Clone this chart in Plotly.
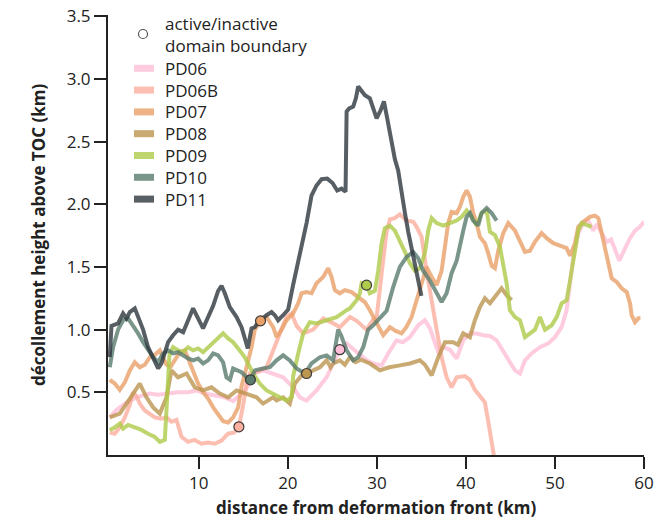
import plotly.graph_objects as go

# ---------------- data (km) ----------------
pd06_x = [0, 0.75, 1.88, 3.0, 4.49, 5.43, 6.55, 7.67, 8.8, 9.74, 10.67, 11.8, 12.92, 13.85, 14.98,
          15.54, 16.1, 17.22, 18.35, 19.47, 20.6, 21.35, 22.1, 23.22, 24.35, 25.09, 25.84, 26.6, 28.09, 28.84,
          29.58, 30.53, 31.27, 32.21, 32.9, 33.71, 34.64, 35.39, 35.96, 36.4, 36.89, 37.45, 38.2, 38.96, 39.7,
          40.45, 41.2, 41.95, 42.7, 43.45, 44.19, 44.94, 45.51, 46.07, 46.63, 47.38, 48.31, 49.25, 50.0, 50.75,
          51.31, 51.69, 52.06, 52.62, 53.18, 53.74, 54.31, 54.7, 55.25, 55.81, 56.3, 56.74, 57.23, 57.68, 58.43,
          58.99, 59.55, 60.0]
pd06_y = [0.30, 0.36, 0.42, 0.46, 0.49, 0.48, 0.49, 0.50, 0.50, 0.515, 0.49, 0.475, 0.46, 0.43, 0.50,
          0.55, 0.65, 0.675, 0.65, 0.62, 0.54, 0.46, 0.435, 0.515, 0.62, 0.73, 0.84, 0.89, 0.80, 0.755,
          0.73, 0.715, 0.81, 0.915, 0.90, 0.94, 1.035, 1.075, 1.01, 0.92, 0.82, 0.86, 0.84, 0.77, 0.915,
          0.97, 0.97, 0.955, 0.95, 0.915, 0.835, 0.74, 0.675, 0.65, 0.755, 0.81, 0.86, 0.89, 0.94, 1.02,
          1.155, 1.37, 1.58, 1.77, 1.85, 1.87, 1.79, 1.84, 1.77, 1.70, 1.72, 1.63, 1.55, 1.62, 1.73,
          1.79, 1.82, 1.86]

pd06b_x = [0, 0.56, 1.12, 1.69, 2.25, 2.62, 3.0, 3.37, 3.93, 4.49, 5.06, 5.8, 6.37, 6.93, 7.49,
           8.06, 8.8, 9.5, 10.3, 11.0, 11.8, 12.55, 13.29, 14.0, 14.5, 14.98, 15.36, 15.73, 16.48, 17.61,
           18.35, 19.1, 19.85, 20.42, 20.98, 21.72, 22.84, 23.97, 25.09, 25.84, 26.97, 27.72, 28.84, 29.58, 29.97,
           30.34, 30.7, 31.09, 31.46, 32.0, 32.58, 33.34, 34.08, 34.46, 35.02, 35.58, 36.15, 36.71, 37.27, 37.83,
           38.39, 38.96, 39.89, 40.45, 41.01, 41.57, 42.13, 42.5, 42.89, 43.2]
pd06b_y = [0.18, 0.17, 0.22, 0.30, 0.40, 0.50, 0.47, 0.41, 0.355, 0.33, 0.30, 0.29, 0.30, 0.265, 0.28,
           0.145, 0.105, 0.12, 0.09, 0.10, 0.09, 0.115, 0.17, 0.18, 0.225, 0.40, 0.57, 0.65, 0.66, 0.70,
           0.84, 0.97, 1.10, 1.13, 1.03, 0.97, 1.00, 1.09, 1.05, 1.02, 1.10, 1.07, 1.00, 1.08, 1.10,
           1.30, 1.55, 1.78, 1.88, 1.89, 1.92, 1.87, 1.86, 1.82, 1.74, 1.47, 1.21, 1.0, 0.78, 0.62,
           0.54, 0.62, 0.63, 0.60, 0.52, 0.47, 0.42, 0.27, 0.10, -0.03]

pd07_x = [0, 0.56, 1.12, 1.69, 2.25, 2.81, 3.37, 3.93, 4.49, 5.06, 5.62, 5.99, 6.37, 6.8, 7.3,
          7.87, 8.43, 8.99, 9.36, 9.92, 10.5, 11.04, 11.61, 12.17, 12.73, 13.3, 13.85, 14.42, 14.8, 15.36,
          15.92, 16.29, 16.93, 17.61, 18.35, 18.73, 19.29, 19.85, 20.6, 21.16, 21.54, 22.1, 22.66, 23.22, 23.97,
          24.53, 24.91, 25.28, 25.84, 26.4, 27.16, 27.9, 28.65, 29.21, 29.78, 30.34, 30.71, 31.46, 32.1, 32.77,
          33.3, 33.9, 34.46, 35.02, 35.58, 36.15, 36.71, 37.27, 37.64, 38.01, 38.39, 38.96, 39.33, 39.7, 40.08,
          40.45, 40.82, 41.2, 41.57, 42.13, 42.5, 42.89, 43.26, 43.63, 44.19, 44.75, 45.51, 46.07, 46.63, 47.19,
          47.75, 48.5, 49.07, 49.81, 50.56, 51.31, 51.69, 52.25, 52.62, 53.18, 53.93, 54.49, 54.87, 55.25, 55.62,
          56.0, 56.37, 56.93, 57.49, 58.06, 58.43, 58.61, 58.99, 59.36, 59.6]
pd07_y = [0.60, 0.57, 0.52, 0.58, 0.675, 0.74, 0.70, 0.72, 0.78, 0.80, 0.835, 0.78, 0.72, 0.70, 0.755,
          0.82, 0.835, 0.74, 0.675, 0.57, 0.50, 0.45, 0.38, 0.32, 0.27, 0.26, 0.30, 0.38, 0.55, 0.70,
          0.86, 1.0, 1.07, 1.10, 1.02, 0.94, 1.0, 1.075, 1.13, 1.21, 1.29, 1.30, 1.29, 1.37, 1.42,
          1.49, 1.42, 1.315, 1.29, 1.315, 1.30, 1.26, 1.22, 1.155, 1.075, 1.0, 0.955, 1.02, 0.99, 0.97,
          1.02, 1.10, 1.235, 1.37, 1.50, 1.42, 1.355, 1.47, 1.66, 1.85, 1.94, 1.93, 1.98, 2.06, 2.11,
          2.06, 1.93, 1.85, 1.74, 1.69, 1.61, 1.51, 1.49, 1.63, 1.77, 1.85, 1.79, 1.71, 1.62, 1.63,
          1.70, 1.77, 1.73, 1.69, 1.67, 1.65, 1.59, 1.69, 1.82, 1.86, 1.90, 1.91, 1.89, 1.77, 1.63,
          1.50, 1.41, 1.38, 1.33, 1.30, 1.21, 1.115, 1.06, 1.09, 1.09]

pd08_x = [0, 1.12, 1.88, 2.62, 3.37, 4.12, 4.87, 5.62, 6.37, 6.93, 7.67, 8.62, 9.55, 10.48, 11.42,
          12.36, 13.29, 14.24, 15.36, 16.48, 17.22, 18.35, 18.73, 19.47, 20.22, 20.79, 21.54, 22.1, 22.84, 23.6,
          24.35, 24.8, 25.09, 25.84, 26.4, 26.97, 27.6, 28.2, 29.21, 30.34, 31.4, 32.58, 33.71, 34.83, 35.4,
          36.15, 36.89, 37.64, 38.57, 39.1, 39.7, 40.45, 41.01, 41.57, 42.13, 42.7, 43.26, 44.0, 44.57, 45.13]
pd08_y = [0.30, 0.33, 0.41, 0.49, 0.57, 0.46, 0.38, 0.33, 0.46, 0.675, 0.62, 0.65, 0.54, 0.515, 0.54,
          0.49, 0.46, 0.515, 0.49, 0.46, 0.41, 0.46, 0.435, 0.46, 0.41, 0.57, 0.635, 0.65, 0.675, 0.70,
          0.755, 0.70, 0.73, 0.755, 0.72, 0.78, 0.74, 0.76, 0.73, 0.675, 0.70, 0.715, 0.73, 0.755, 0.72,
          0.635, 0.78, 0.90, 0.90, 0.88, 0.97, 0.94, 1.075, 1.18, 1.25, 1.21, 1.26, 1.33, 1.275, 1.235]

pd09_x = [0, 0.56, 1.12, 1.5, 2.06, 2.81, 3.56, 4.30, 5.06, 5.62, 6.18, 6.4, 6.7, 7.11, 7.67,
          8.24, 8.80, 9.36, 9.92, 10.48, 11.04, 11.61, 12.17, 12.73, 13.29, 13.85, 14.42, 15.17, 16.1, 16.85,
          17.61, 18.35, 19.1, 19.85, 20.42, 20.6, 21.16, 21.72, 22.47, 23.22, 24.35, 25.47, 26.6, 26.97, 27.72,
          28.09, 28.28, 28.84, 29.21, 29.78, 30.15, 30.53, 30.9, 31.46, 32.02, 32.58, 33.15, 33.71, 34.27, 34.83,
          35.39, 35.76, 36.15, 36.71, 37.45, 38.2, 38.96, 39.52, 40.08, 40.64, 41.2, 41.76, 42.33, 42.7, 43.26,
          43.82, 44.19, 44.57, 44.94, 45.51, 46.07, 46.63, 47.2, 47.75, 48.31, 48.88, 49.63, 50.19, 50.75, 51.31,
          51.69, 52.25, 52.62, 53.0, 53.6, 54.12]
pd09_y = [0.20, 0.22, 0.25, 0.21, 0.24, 0.22, 0.20, 0.17, 0.145, 0.105, 0.12, 0.40, 0.80, 0.86, 0.835,
          0.82, 0.86, 0.835, 0.85, 0.82, 0.86, 0.89, 0.94, 0.97, 0.93, 0.90, 0.85, 0.78, 0.65, 0.57,
          0.515, 0.49, 0.46, 0.435, 0.46, 0.63, 0.81, 0.97, 1.06, 1.05, 1.075, 1.10, 1.155, 1.17, 1.235,
          1.29, 1.37, 1.355, 1.29, 1.31, 1.47, 1.69, 1.81, 1.83, 1.79, 1.71, 1.62, 1.53, 1.47, 1.49,
          1.61, 1.79, 1.89, 1.85, 1.83, 1.85, 1.87, 1.90, 1.95, 1.90, 1.83, 1.93, 1.95, 1.78, 1.755,
          1.66, 1.53, 1.37, 1.155, 1.10, 1.075, 0.94, 0.97, 1.0, 1.10, 1.0, 1.035, 1.10, 1.21, 1.235,
          1.39, 1.66, 1.79, 1.85, 1.83, 1.82]

pd10_x = [0, 0.37, 0.93, 1.49, 2.06, 2.62, 3.18, 3.74, 4.30, 4.87, 5.43, 5.99, 6.55, 7.11, 7.67,
          8.24, 8.80, 9.36, 9.92, 10.48, 11.04, 11.61, 12.17, 12.73, 13.1, 13.5, 13.85, 14.8, 15.36, 15.8,
          16.3, 17.2, 17.98, 18.73, 19.47, 20.22, 20.98, 21.91, 22.66, 23.6, 24.35, 25.09, 25.65, 26.0, 26.6,
          27.34, 27.9, 28.46, 29.02, 29.58, 30.34, 31.09, 31.83, 32.58, 33.34, 34.08, 34.64, 35.2, 35.96, 36.71,
          37.27, 37.83, 38.39, 38.96, 39.33, 39.7, 40.08, 40.45, 40.82, 41.38, 41.76, 42.33, 42.89, 43.45]
pd10_y = [0.70, 0.86, 1.0, 1.075, 1.09, 1.035, 0.97, 0.90, 0.835, 0.78, 0.74, 0.81, 0.835, 0.81, 0.82,
          0.795, 0.77, 0.755, 0.77, 0.73, 0.755, 0.81, 0.795, 0.74, 0.62, 0.60, 0.69, 0.66, 0.62, 0.60,
          0.675, 0.69, 0.70, 0.755, 0.795, 0.755, 0.69, 0.65, 0.73, 0.78, 0.795, 0.755, 1.0, 0.95, 0.835,
          0.755, 0.78, 0.86, 1.0, 1.035, 1.09, 1.15, 1.34, 1.5, 1.58, 1.62, 1.57, 1.47, 1.39, 1.29,
          1.22, 1.29, 1.45, 1.55, 1.69, 1.79, 1.90, 1.93, 1.87, 1.83, 1.93, 1.97, 1.93, 1.87]

pd11_x = [0, 0.19, 0.93, 1.49, 1.88, 2.25, 2.81, 3.18, 3.74, 4.30, 4.87, 5.43, 5.81, 6.18, 6.55,
          7.11, 7.67, 8.24, 8.80, 9.36, 9.92, 10.48, 11.04, 11.61, 12.17, 12.55, 12.92, 13.48, 14.24, 14.8,
          15.5, 15.92, 16.29, 16.66, 17.6, 18.17, 18.54, 18.91, 19.47, 20.03, 20.6, 21.35, 22.1, 22.66, 23.22,
          23.79, 24.42, 25.02, 25.54, 26.03, 26.48, 26.6, 26.89, 27.34, 27.64, 27.9, 28.28, 28.65, 29.21, 29.58,
          29.97, 30.42, 30.79, 31.16, 31.65, 32.02, 32.39, 32.77, 33.15, 33.52, 34.08, 34.46, 34.83, 35.0]
pd11_y = [0.78, 1.03, 1.05, 1.13, 1.09, 1.14, 1.17, 1.10, 1.0, 0.86, 0.78, 0.69, 0.73, 0.81, 0.90,
          0.955, 1.0, 0.98, 1.07, 1.17, 1.09, 1.01, 1.10, 1.19, 1.31, 1.35, 1.29, 1.18, 1.10, 1.02,
          0.85, 1.01, 1.02, 1.06, 1.115, 1.14, 1.115, 1.075, 1.115, 1.16, 1.36, 1.6, 1.85, 2.07, 2.15,
          2.20, 2.205, 2.17, 2.11, 2.125, 2.10, 2.74, 2.765, 2.78, 2.845, 2.94, 2.91, 2.87, 2.845, 2.765,
          2.685, 2.75, 2.82, 2.685, 2.50, 2.36, 2.27, 2.08, 1.93, 1.78, 1.58, 1.43, 1.30, 1.27]

# active/inactive domain boundary points
boundary_series = ["PD06B", "PD10", "PD07", "PD08", "PD06", "PD09"]
boundary_x = [14.5, 15.8, 16.93, 22.1, 25.84, 28.84]
boundary_y = [0.225, 0.60, 1.07, 0.65, 0.84, 1.355]

x_ticks = [10, 20, 30, 40, 50, 60]
y_ticks = [0.5, 1.0, 1.5, 2.0, 2.5, 3.0, 3.5]

series_names = ["PD06", "PD06B", "PD07", "PD08", "PD09", "PD10", "PD11"]
series_x = [pd06_x, pd06b_x, pd07_x, pd08_x, pd09_x, pd10_x, pd11_x]
series_y = [pd06_y, pd06b_y, pd07_y, pd08_y, pd09_y, pd10_y, pd11_y]
colors = {"PD06": "#FFBFD8", "PD06B": "#FDAFA0", "PD07": "#E9A169", "PD08": "#BC954F",
          "PD09": "#AFCB4A", "PD10": "#5A7B6D", "PD11": "#2E383F"}
boundary_label = "active/inactive<br>domain boundary"

FONT = "Open Sans"
FS = 17
W, H = 672, 520
ML, MR, MT, MB = 108, 28, 15, 65
PW, PH = W - ML - MR, H - MT - MB


def px_x(px):
    return (px - ML) / PW


def px_y(py):
    return (H - MB - py) / PH


fig = go.Figure()

for name, xs, ys in zip(series_names, series_x, series_y):
    fig.add_trace(go.Scatter(
        x=xs, y=ys, mode="lines", name=name, opacity=0.8, showlegend=False,
        line=dict(color=colors[name], width=4),
    ))

fig.add_trace(go.Scatter(
    x=boundary_x, y=boundary_y, mode="markers", showlegend=False,
    marker=dict(size=10, color=[colors[s] for s in boundary_series],
                line=dict(color="#3a3a3a", width=1.2)),
))

# ---- hand-placed legend (text annotations + symbol shapes) ----
shapes = []
annotations = []
cx, cy, r = 143, 34, 4.5
shapes.append(dict(type="circle", xref="paper", yref="paper",
                   x0=px_x(cx - r), x1=px_x(cx + r), y0=px_y(cy + r), y1=px_y(cy - r),
                   fillcolor="white", line=dict(color="#555", width=1.2)))
annotations.append(dict(xref="paper", yref="paper", x=px_x(163), y=px_y(34),
                        xanchor="left", yanchor="middle", align="left", showarrow=False,
                        text=boundary_label, font=dict(family=FONT, size=FS, color="#222")))
for i, name in enumerate(series_names):
    yc = 68.3 + 21.8 * i
    shapes.append(dict(type="line", xref="paper", yref="paper",
                       x0=px_x(134), x1=px_x(154), y0=px_y(yc), y1=px_y(yc),
                       line=dict(color=colors[name], width=7), opacity=0.8))
    annotations.append(dict(xref="paper", yref="paper", x=px_x(163), y=px_y(yc),
                            xanchor="left", yanchor="middle", showarrow=False,
                            text=name, font=dict(family=FONT, size=FS, color="#222")))

# axis titles
annotations.append(dict(xref="paper", yref="paper", x=px_x(376), y=px_y(508),
                        xanchor="center", yanchor="middle", showarrow=False,
                        text="<b>distance from deformation front (km)</b>",
                        font=dict(family=FONT, size=FS, color="#222")))
annotations.append(dict(xref="paper", yref="paper", x=px_x(38), y=px_y(235),
                        xanchor="center", yanchor="middle", showarrow=False, textangle=-90,
                        text="<b>décollement height above TOC (km)</b>",
                        font=dict(family=FONT, size=FS, color="#222")))

fig.update_layout(
    width=W, height=H,
    margin=dict(l=ML, r=MR, t=MT, b=MB, autoexpand=False),
    paper_bgcolor="white", plot_bgcolor="white",
    font=dict(family=FONT, size=FS, color="#222"),
    showlegend=False,
    shapes=shapes, annotations=annotations,
    xaxis=dict(range=[-0.2, 60], tickvals=x_ticks, ticktext=[str(v) for v in x_ticks],
               ticks="outside", ticklen=12, tickwidth=2, tickcolor="#222", automargin=False,
               showline=True, linewidth=2, linecolor="#222", showgrid=False, zeroline=False),
    yaxis=dict(range=[0, 3.51], tickvals=y_ticks, ticktext=[f"{v:.1f}" for v in y_ticks],
               ticks="outside", ticklen=12, tickwidth=2, tickcolor="#222", automargin=False,
               showline=True, linewidth=2, linecolor="#222", showgrid=False, zeroline=False),
)

fig.write_html("out.html", config={"displayModeBar": False},
               post_script="document.body.style.margin='0';")
